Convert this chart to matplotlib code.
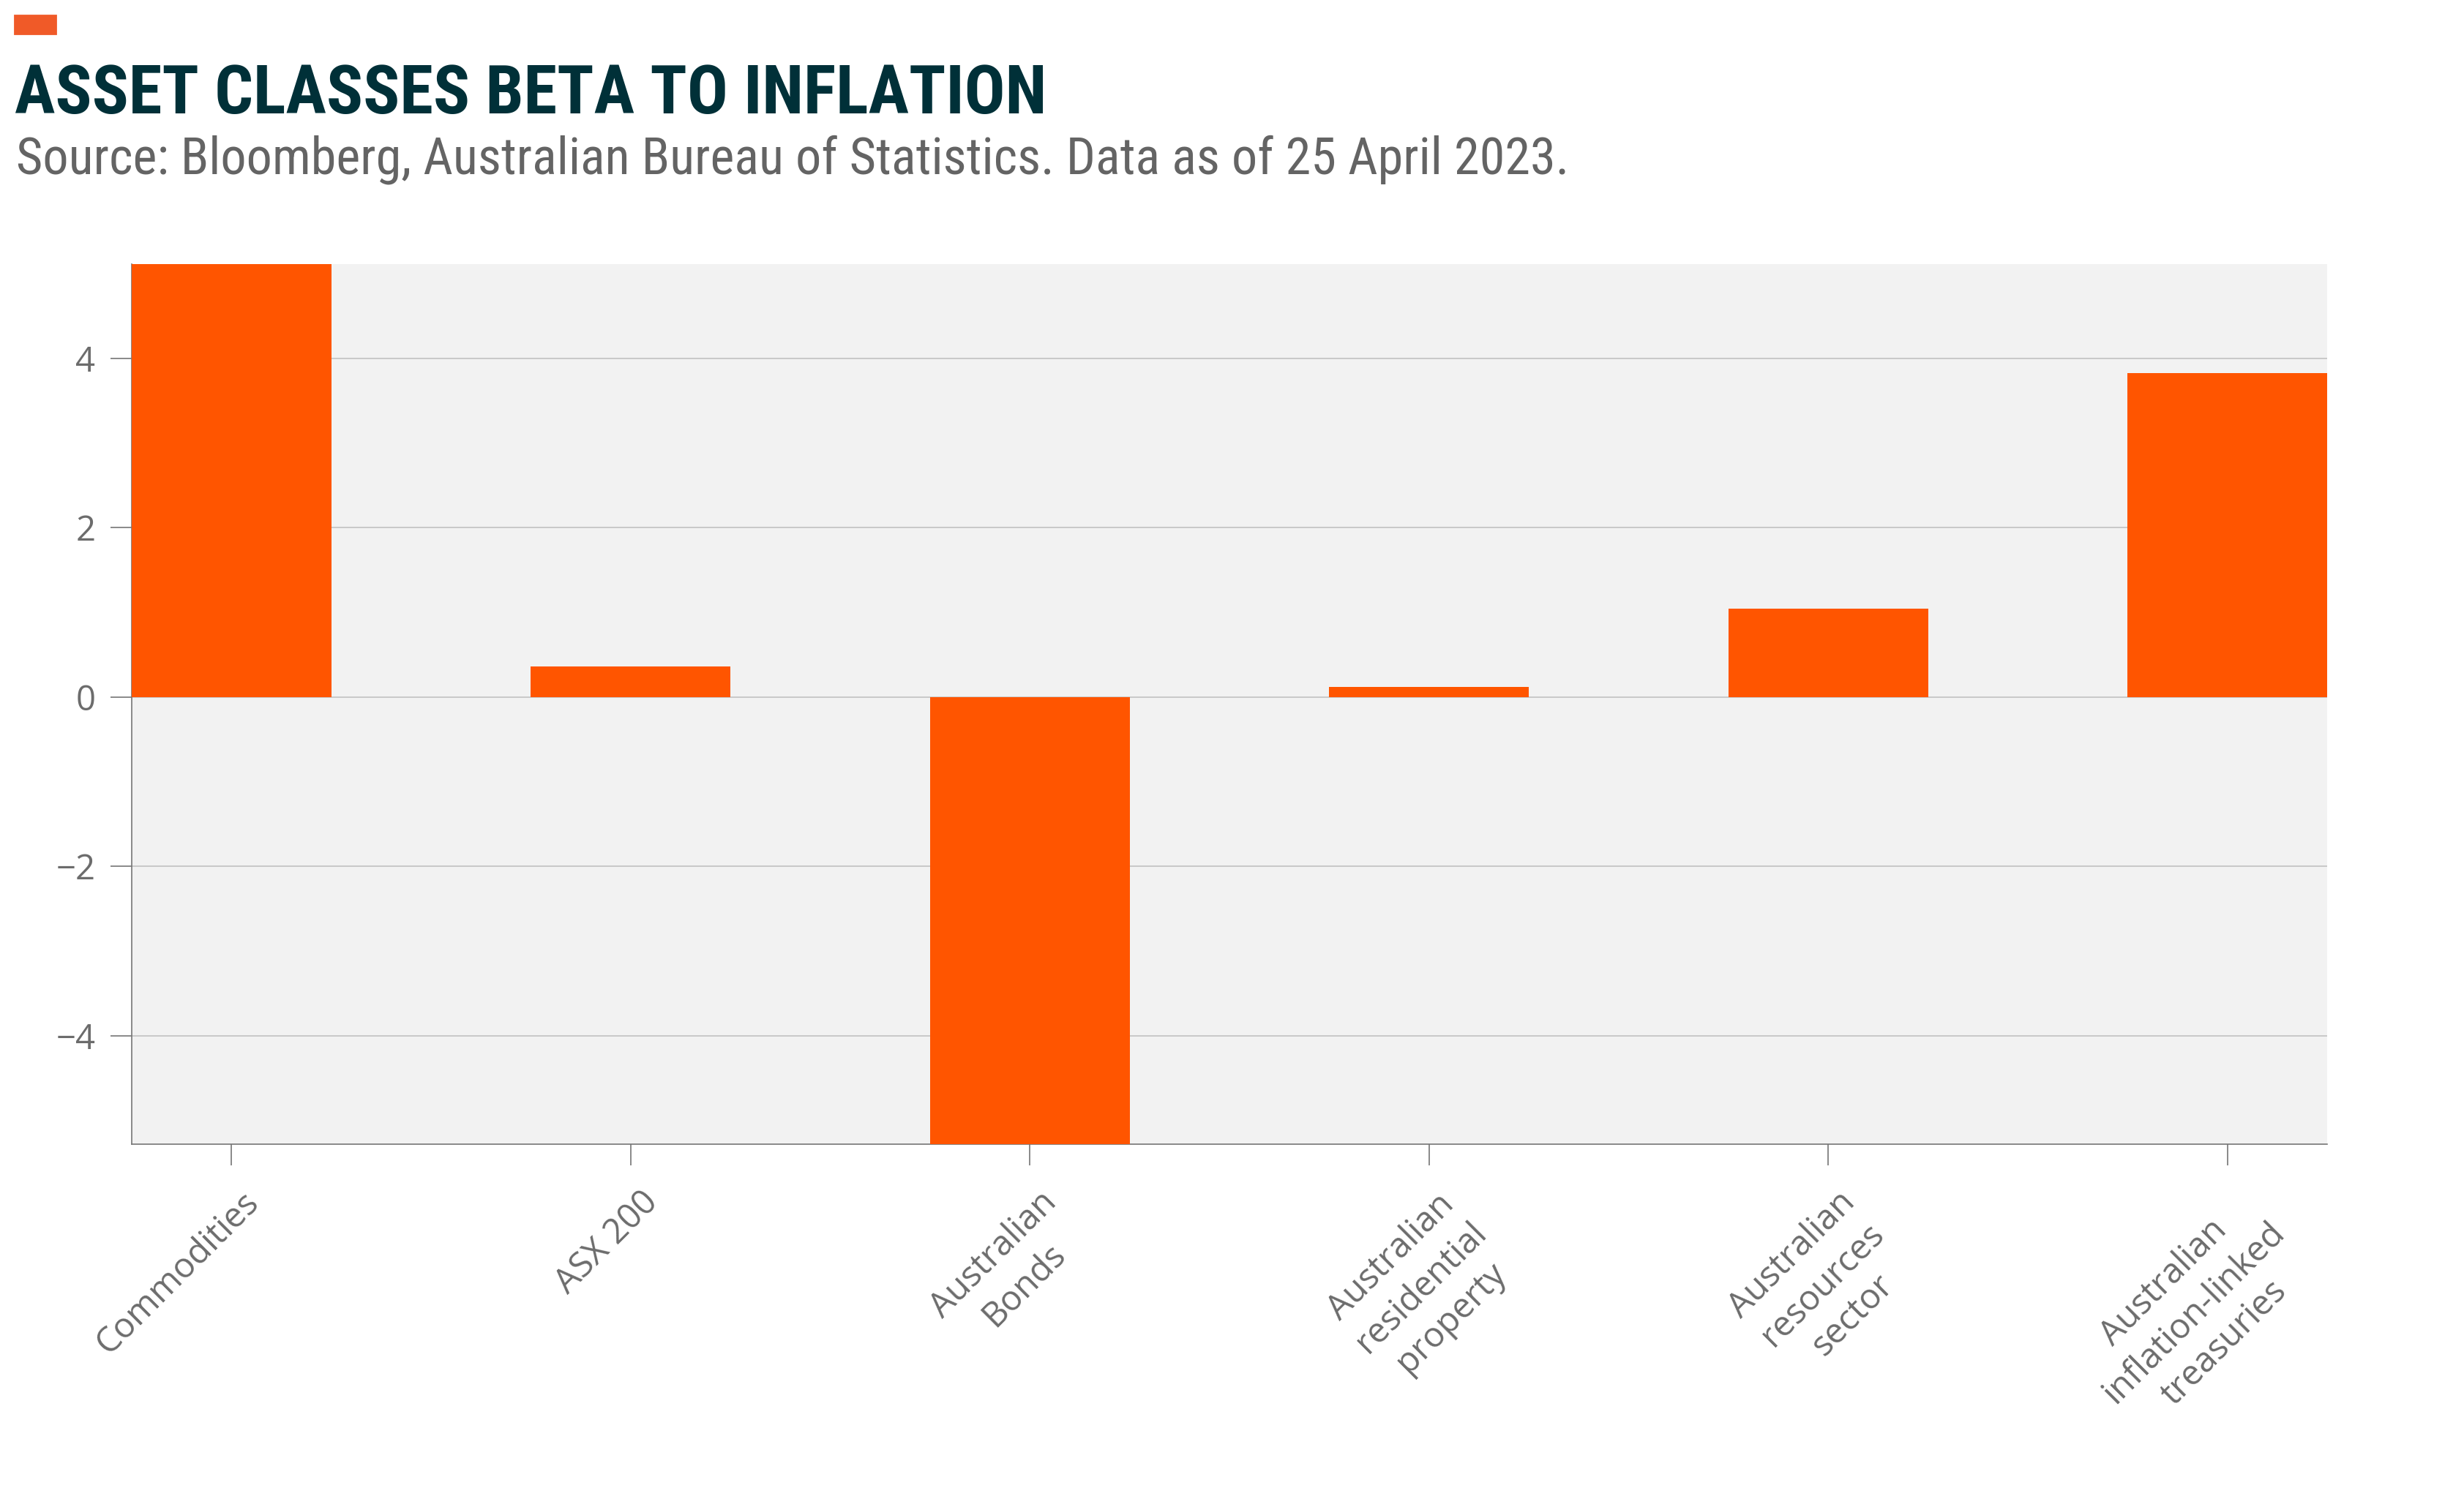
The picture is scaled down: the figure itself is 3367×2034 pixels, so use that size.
import matplotlib
matplotlib.use("Agg")
import matplotlib.pyplot as plt
from matplotlib import font_manager as fm
from matplotlib.transforms import ScaledTranslation
from matplotlib.patches import Rectangle

# values
categories = [
    "Commodities",
    "ASX 200",
    "Australian\nBonds",
    "Australian\nresidential\nproperty",
    "Australian\nresources\nsector",
    "Australian\ninflation-linked\ntreasuries",
]
beta = [5.11, 0.36, -5.28, 0.12, 1.04, 3.82]
y_ticks = [-4, -2, 0, 2, 4]

W, H, DPI = 3367, 2034, 200
BAR = "#FF5500"
GREY = "#6c6c6c"


def has_font(name):
    try:
        fm.findfont(fm.FontProperties(family=name), fallback_to_default=False)
        return True
    except ValueError:
        return False


# the header uses a condensed face; fall back to plain Roboto a bit smaller
if has_font("Roboto Condensed"):
    HEAD, title_size, sub_size = ["Roboto Condensed", "DejaVu Sans"], 33.4, 25.3
else:
    HEAD, title_size, sub_size = ["Roboto", "DejaVu Sans"], 30, 23

fig = plt.figure(figsize=(W / DPI, H / DPI), dpi=DPI)
ax = fig.add_axes([180 / W, 1 - 1564 / H, (3180 - 180) / W, (1564 - 361) / H])

x = range(len(categories))
ax.bar(x, beta, width=0.5, color=BAR, zorder=3)
ax.margins(x=0, y=0)

ax.set_facecolor("#F2F2F2")
ax.set_yticks(y_ticks)
ax.grid(axis="y", color="#bdbdbd", linewidth=0.55, zorder=0)
ax.set_axisbelow(True)

for side in ("top", "right"):
    ax.spines[side].set_visible(False)
for side in ("left", "bottom"):
    ax.spines[side].set_color("#767676")
    ax.spines[side].set_linewidth(0.6)

ax.tick_params(axis="both", direction="out", length=10.4, width=0.6,
               color="#767676", labelcolor=GREY, labelsize=17)
ax.tick_params(axis="y", pad=7.5)
ax.tick_params(axis="x", pad=9.7)

ax.set_xticks(list(x))
ax.set_xticklabels(categories, rotation=45, ha="right", va="top",
                   rotation_mode="anchor", multialignment="center",
                   linespacing=1.3, family="Open Sans")
shift = ScaledTranslation(13 / DPI, 0, fig.dpi_scale_trans)
for lab in ax.get_xticklabels():
    lab.set_transform(lab.get_transform() + shift)
for lab in ax.get_yticklabels():
    lab.set_family("Open Sans")

# header
fig.patches.append(Rectangle((20 / W, 1 - 46 / H), 56 / W, 25 / H,
                             transform=fig.transFigure, color="#F05A28"))
fig.text(20 / W, 1 - 155 / H, "ASSET CLASSES BETA TO INFLATION",
         family=HEAD, weight="bold", fontsize=title_size,
         color="#003038", va="baseline", ha="left")
fig.text(22 / W, 1 - 238 / H,
         "Source: Bloomberg, Australian Bureau of Statistics. Data as of 25 April 2023.",
         family=HEAD, fontsize=sub_size, color="#646464",
         va="baseline", ha="left")

fig.savefig("out.png", dpi=DPI)
plt.close(fig)
